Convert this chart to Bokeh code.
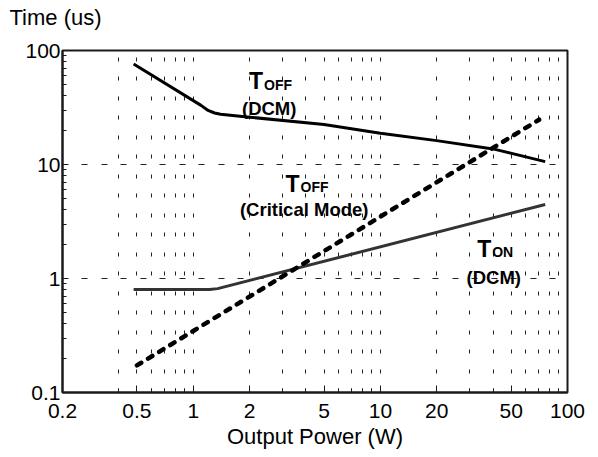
from bokeh.plotting import figure
from bokeh.models import Range1d, FixedTicker, CustomJSTickFormatter, Label, Title
from bokeh.embed import file_html
from bokeh.resources import INLINE

# ---- data ----
x_ticks = [0.2, 0.5, 1, 2, 5, 10, 20, 50, 100]
x_tick_labels = ["0.2", "0.5", "1", "2", "5", "10", "20", "50", "100"]
x_minor = [0.4, 0.6, 0.7, 0.8, 0.9, 3, 4, 6, 7, 8, 9, 30, 40, 60, 70, 80, 90]
x_grid = [0.4, 0.5, 0.6, 0.7, 0.8, 0.9, 1, 2, 3, 4, 5, 6, 7, 8, 9,
          10, 20, 30, 40, 50, 60, 70, 80, 90]
y_ticks = [0.1, 1, 10, 100]
y_tick_labels = ["0.1", "1", "10", "100"]
y_minor = [0.2, 0.3, 0.4, 0.5, 0.6, 0.7, 0.8, 0.9, 2, 3, 4, 5, 6, 7, 8, 9,
           20, 30, 40, 50, 60, 70, 80, 90]
y_grid = [1, 10]

toff_dcm_p = [0.48, 1.1, 1.2, 1.3, 1.4, 2, 5, 10, 20, 40, 76]
toff_dcm_t = [76, 33.0, 29.8, 28.3, 27.6, 26, 22.4, 18.8, 16.2, 13.7, 10.6]

toff_crit_p = [0.5, 70.5]
toff_crit_t = [0.173, 24.7]

ton_dcm_p = [0.48, 1.22, 1.35, 76]
ton_dcm_t = [0.8, 0.8, 0.815, 4.46]

FONT = "Liberation Sans"

p = figure(width=590, height=455, x_axis_type="log", y_axis_type="log",
           x_range=Range1d(0.2, 100), y_range=Range1d(0.1, 100),
           output_backend="svg", toolbar_location=None, title=None,
           min_border_left=62, min_border_right=23,
           min_border_top=50, min_border_bottom=63)
p.background_fill_color = "white"
p.border_fill_color = "white"
p.outline_line_color = "#1a1a1a"
p.outline_line_width = 2

# spacer between the frame and the unit title
p.add_layout(Title(text="\u00a0", text_font=FONT, text_font_size="17px",
                   standoff=0, text_color="white"), "above")
p.add_layout(Title(text="Time (us)", text_font=FONT, text_font_size="22px",
                   text_font_style="normal", text_color="black",
                   align="left", offset=-53, standoff=0), "above")

fmt_code = """
for (let i = 0; i < tv.length; i++) {
  if (Math.abs(tv[i] - tick) < 1e-9 * Math.max(1, Math.abs(tick))) return tl[i];
}
return "";
"""

xa = p.xaxis[0]
xa.ticker = FixedTicker(ticks=x_ticks, minor_ticks=x_minor)
xa.formatter = CustomJSTickFormatter(args=dict(tv=x_ticks, tl=x_tick_labels), code=fmt_code)
xa.axis_label = "Output Power (W)"
xa.axis_label_text_font = FONT
xa.axis_label_text_font_size = "22px"
xa.axis_label_text_font_style = "normal"
xa.axis_label_text_color = "black"
xa.axis_label_standoff = 3
xa.major_label_text_font = FONT
xa.major_label_text_font_size = "21px"
xa.major_label_text_color = "black"
xa.major_label_standoff = 11
xa.major_tick_in = 7
xa.major_tick_out = 0
xa.minor_tick_in = 4
xa.minor_tick_out = 0
xa.axis_line_width = 2
xa.axis_line_color = "#1a1a1a"
xa.major_tick_line_color = "#1a1a1a"
xa.minor_tick_line_color = "#1a1a1a"

ya = p.yaxis[0]
ya.ticker = FixedTicker(ticks=y_ticks, minor_ticks=y_minor)
ya.formatter = CustomJSTickFormatter(args=dict(tv=y_ticks, tl=y_tick_labels), code=fmt_code)
ya.major_label_text_font = FONT
ya.major_label_text_font_size = "21px"
ya.major_label_text_color = "black"
ya.major_label_standoff = 2
ya.major_tick_in = 5
ya.major_tick_out = 0
ya.minor_tick_in = 4
ya.minor_tick_out = 0
ya.axis_line_width = 2
ya.axis_line_color = "#1a1a1a"
ya.major_tick_line_color = "#1a1a1a"
ya.minor_tick_line_color = "#1a1a1a"

p.xgrid.ticker = FixedTicker(ticks=x_grid)
p.xgrid.grid_line_color = "#222222"
p.xgrid.grid_line_width = 1
p.xgrid.grid_line_dash = "4 15 4 16"
p.ygrid.ticker = FixedTicker(ticks=y_grid)
p.ygrid.grid_line_color = "#222222"
p.ygrid.grid_line_width = 1
p.ygrid.grid_line_dash = "6 13 6 14"

p.line(toff_dcm_p, toff_dcm_t, line_color="black", line_width=3, line_join="round")
p.line(ton_dcm_p, ton_dcm_t, line_color="#333333", line_width=3, line_join="round")
p.line(toff_crit_p, toff_crit_t, line_color="black", line_width=4.5,
       line_dash="5 8", line_cap="round")

def lab(text, x, y, size, style="bold", align="left"):
    p.add_layout(Label(x=x, y=y, x_units="screen", y_units="screen", text=text,
                       text_font=FONT, text_font_size=size, text_font_style=style,
                       text_color="black", text_align=align, text_baseline="alphabetic"))

# frame-relative (left = 0, bottom = 0) label placement
lab("T", 186.5, 311.3, "23px")
lab("OFF", 201.5, 307.8, "14px")
lab("(DCM)", 206.7, 284.2, "18.5px", align="center")
lab("T", 223.0, 208.7, "23px")
lab("OFF", 238.0, 205.2, "14px")
lab("(Critical Mode)", 241.7, 182.6, "18.5px", align="center")
lab("T", 414.7, 143.7, "23px")
lab("ON", 429.7, 140.2, "14px")
lab("(DCM)", 431.3, 115.3, "18.5px", align="center")

open("out.html", "w").write(file_html(p, INLINE))
